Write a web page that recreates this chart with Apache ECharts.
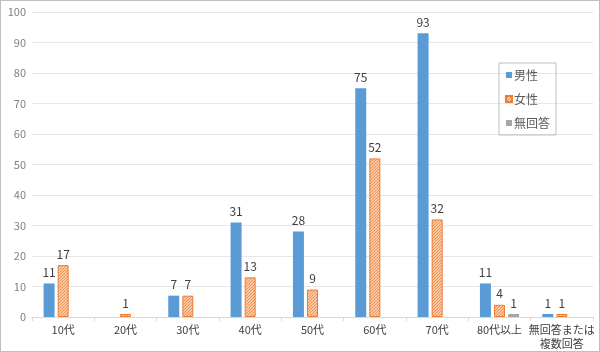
<!DOCTYPE html>
<html>
<head>
<meta charset="utf-8">
<script src="https://cdn.jsdelivr.net/npm/echarts@6/dist/echarts.min.js"></script>
<style>
    html, body { margin: 0; padding: 0; background: #fff; }
    #chart {
        width: 600px;
        height: 352px;
        box-sizing: border-box;
        border: 1px solid #c0c0c0;
    }
</style>
</head>
<body>
<div id="chart"></div>
<script>
    const categories = ['10代', '20代', '30代', '40代', '50代', '60代', '70代', '80代以上', '無回答または\n複数回答'];
    const maleValues = [11, 0, 7, 31, 28, 75, 93, 11, 1];
    const femaleValues = [17, 1, 7, 13, 9, 52, 32, 4, 1];
    const noAnswerValues = [0, 0, 0, 0, 0, 0, 0, 1, 0];
    const yTicks = [0, 10, 20, 30, 40, 50, 60, 70, 80, 90, 100];

    // 女性: 細かい斜線ハッチング
    function hatch() {
        const c = document.createElement('canvas');
        c.width = 3;
        c.height = 3;
        const ctx = c.getContext('2d');
        ctx.fillStyle = '#fde3d2';
        ctx.fillRect(0, 0, 3, 3);
        ctx.strokeStyle = '#F08A45';
        ctx.lineWidth = 1.1;
        ctx.beginPath();
        ctx.moveTo(0, 3); ctx.lineTo(3, 0);
        ctx.moveTo(-1, 1); ctx.lineTo(1, -1);
        ctx.moveTo(2, 4); ctx.lineTo(4, 2);
        ctx.stroke();
        return c;
    }

    const font = '"Noto Sans CJK JP", "Noto Sans", sans-serif';
    const label = {
        show: true,
        position: 'top',
        distance: 5,
        color: '#404040',
        fontSize: 12,
        fontFamily: font,
        formatter: (p) => p.value === 0 ? '' : p.value
    };

    const chart = echarts.init(document.getElementById('chart'));
    chart.setOption({
        animation: false,
        textStyle: { fontFamily: font },
        grid: { left: 31, right: 6, top: 11, bottom: 34 },
        legend: {
            orient: 'vertical',
            left: 498,
            top: 62,
            width: 62,
            padding: [6, 6, 6, 6],
            itemGap: 12,
            itemWidth: 6,
            itemHeight: 6,
            borderColor: '#bfbfbf',
            borderWidth: 1,
            textStyle: { color: '#595959', fontSize: 12, padding: [0, 8, 0, -3] },
            data: [
                { name: '男性', icon: 'rect' },
                { name: '女性', icon: 'rect' },
                { name: '無回答', icon: 'rect' }
            ]
        },
        xAxis: {
            type: 'category',
            data: categories,
            axisLine: { lineStyle: { color: '#d9d9d9' } },
            axisTick: { show: true, length: 4, lineStyle: { color: '#d9d9d9' } },
            axisLabel: { color: '#404040', fontSize: 11, lineHeight: 14, margin: 6, interval: 0 }
        },
        yAxis: {
            type: 'value',
            min: yTicks[0],
            max: yTicks[yTicks.length - 1],
            interval: 10,
            axisLine: { show: false },
            axisTick: { show: false },
            splitLine: { lineStyle: { color: '#e6e6e6' } },
            axisLabel: { color: '#808080', fontSize: 11, margin: 6 }
        },
        series: [
            {
                name: '男性',
                type: 'bar',
                data: maleValues,
                barWidth: 11,
                barGap: '28%',
                itemStyle: { color: '#5B9BD5' },
                label: label
            },
            {
                name: '女性',
                type: 'bar',
                data: femaleValues,
                barWidth: 11,
                barGap: '28%',
                itemStyle: {
                    color: { image: hatch(), repeat: 'repeat' },
                    borderColor: '#ED7D31',
                    borderWidth: 1
                },
                label: label
            },
            {
                name: '無回答',
                type: 'bar',
                data: noAnswerValues,
                barWidth: 11,
                barGap: '28%',
                itemStyle: { color: '#A5A5A5' },
                label: label
            }
        ]
    });
</script>
</body>
</html>
